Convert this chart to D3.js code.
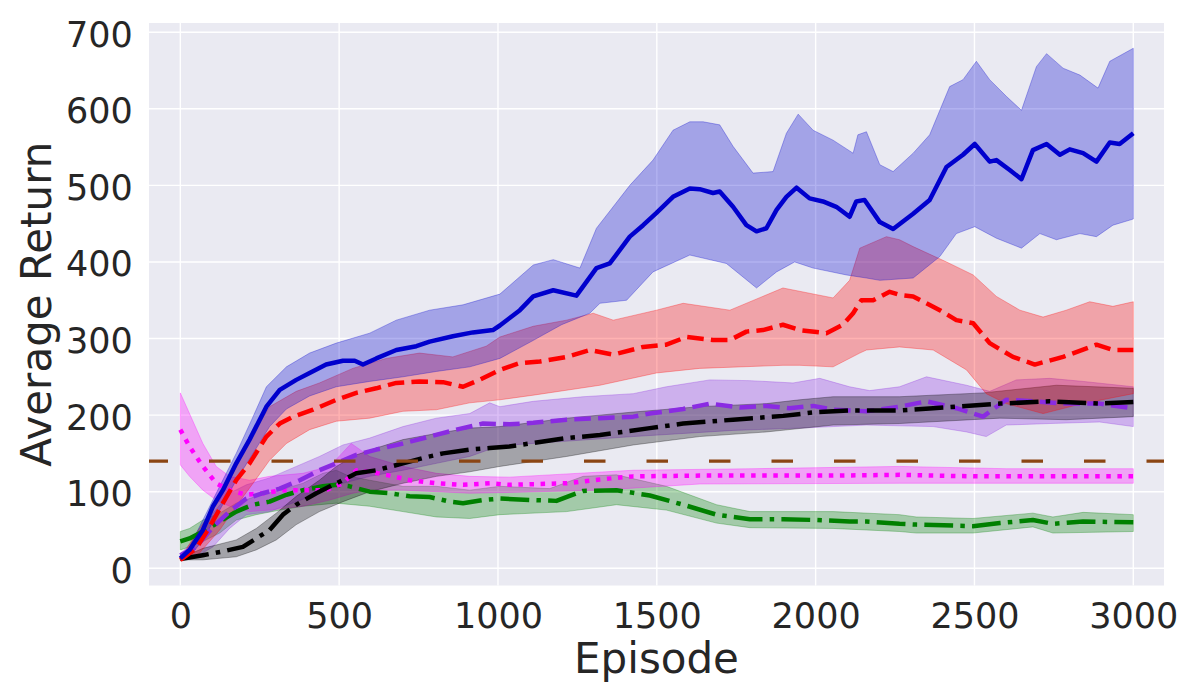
<!DOCTYPE html>
<html>
<head>
<meta charset="utf-8">
<script src="https://cdn.jsdelivr.net/npm/d3@7"></script>
<style>
  body { margin: 0; background: #fff; }
  text { font-family: "DejaVu Sans", sans-serif; fill: #262626; }
</style>
</head>
<body>
<div id="chart"></div>
<script>
// ---- data: [episode, average return] ----
const blueMean = [[0,13],[29,24],[71,50],[103,81],[134,102],[176,137],[218,168],[271,211],[313,233],[365,246],[407,255],[459,266],[512,271],[549,271],[575,266],[617,274],[680,285],[743,290],[785,296],[858,303],[921,308],[984,311],[1006,317],[1069,337],[1111,355],[1174,363],[1247,356],[1310,392],[1352,398],[1415,433],[1457,448],[1499,464],[1551,485],[1604,496],[1635,495],[1677,490],[1698,492],[1740,472],[1782,448],[1814,440],[1845,444],[1877,468],[1908,485],[1940,497],[1981,483],[2023,479],[2065,472],[2107,459],[2128,479],[2154,481],[2202,452],[2244,443],[2307,463],[2359,481],[2412,524],[2464,540],[2501,554],[2548,531],[2569,533],[2611,520],[2648,508],[2684,546],[2727,554],[2769,540],[2800,547],[2842,542],[2884,531],[2926,556],[2957,554],[3000,568]];
const blueUpper = [[0,15],[29,28],[71,63],[124,107],[176,150],[229,198],[271,237],[334,263],[407,281],[491,294],[596,307],[680,324],[785,337],[890,344],[1006,358],[1111,396],[1174,403],[1258,392],[1310,444],[1415,500],[1488,533],[1551,572],[1604,583],[1646,583],[1698,579],[1740,551],[1803,516],[1866,518],[1908,568],[1945,593],[1992,572],[2055,559],[2118,542],[2133,566],[2160,570],[2202,527],[2244,518],[2307,542],[2359,566],[2422,629],[2464,638],[2506,662],[2548,638],[2601,616],[2648,598],[2695,655],[2727,672],[2779,653],[2832,644],[2889,627],[2926,662],[3000,679]];
const blueLower = [[0,12],[29,15],[71,37],[124,76],[176,115],[229,150],[281,185],[334,208],[407,225],[491,237],[596,244],[701,250],[806,257],[911,263],[1006,274],[1100,295],[1200,318],[1289,333],[1321,346],[1405,350],[1488,387],[1604,409],[1719,398],[1814,366],[1877,387],[1934,400],[1992,392],[2097,383],[2160,379],[2202,376],[2307,379],[2391,407],[2443,437],[2501,446],[2569,431],[2648,418],[2706,437],[2758,429],[2832,437],[2884,433],[2936,448],[3000,456]];

const redMean = [[0,11],[50,26],[92,54],[134,85],[176,115],[218,137],[271,172],[313,189],[355,198],[418,207],[491,220],[554,229],[617,235],[680,242],[753,244],[827,243],[890,237],[942,246],[1006,259],[1069,268],[1132,270],[1216,276],[1289,285],[1363,279],[1457,289],[1530,292],[1593,302],[1677,298],[1730,298],[1782,309],[1834,311],[1897,318],[1950,311],[2034,307],[2086,318],[2118,333],[2144,350],[2181,350],[2233,361],[2264,357],[2307,355],[2391,337],[2443,324],[2496,320],[2548,294],[2621,276],[2690,266],[2779,276],[2884,292],[2936,285],[3000,285]];
const redUpper = [[0,12],[50,46],[124,89],[176,133],[229,176],[281,211],[365,231],[438,242],[543,261],[648,274],[753,281],[858,276],[963,290],[1006,302],[1111,316],[1216,324],[1300,333],[1363,324],[1499,337],[1583,346],[1730,337],[1897,366],[2055,353],[2107,376],[2139,418],[2223,433],[2264,429],[2307,420],[2412,400],[2496,383],[2569,355],[2643,337],[2716,328],[2789,337],[2863,348],[2936,342],[3000,348]];
const redLower = [[0,10],[50,15],[124,50],[176,81],[229,111],[281,141],[334,163],[407,181],[491,192],[596,196],[701,205],[806,207],[911,216],[1006,220],[1111,226],[1321,239],[1499,255],[1635,261],[1897,265],[1950,265],[2055,263],[2139,281],[2160,285],[2264,289],[2370,285],[2475,259],[2537,228],[2600,215],[2716,202],[2840,215],[3000,228]];

const purpleMean = [[0,17],[50,28],[103,54],[155,74],[208,91],[260,98],[313,104],[376,115],[438,128],[491,137],[554,148],[617,155],[701,163],[785,172],[869,181],[953,189],[1036,188],[1111,190],[1216,194],[1321,196],[1426,198],[1478,202],[1583,208],[1667,215],[1761,210],[1845,212],[1918,209],[1992,212],[2055,207],[2160,205],[2264,211],[2349,218],[2443,209],[2527,198],[2600,220],[2684,218],[2789,215],[2894,215],[3000,209]];
const purpleUpper = [[0,18],[50,41],[103,72],[155,98],[208,109],[281,118],[365,133],[438,146],[512,161],[596,170],[701,185],[806,196],[911,202],[974,216],[1006,211],[1111,218],[1268,224],[1426,228],[1530,237],[1667,246],[1793,245],[1929,242],[2013,248],[2107,237],[2170,232],[2264,237],[2349,250],[2475,239],[2548,231],[2632,246],[2737,248],[2842,244],[3000,237]];
const purpleLower = [[0,15],[50,15],[103,28],[155,52],[208,70],[281,74],[365,87],[438,98],[512,111],[596,120],[701,128],[806,137],[911,146],[1006,160],[1426,172],[1740,180],[1950,183],[2160,187],[2370,185],[2475,178],[2537,172],[2600,187],[2737,189],[2894,191],[3000,185]];

const blackMean = [[0,12],[71,17],[134,22],[197,28],[239,39],[281,50],[323,70],[365,83],[428,98],[491,111],[554,124],[617,128],[701,137],[764,144],[827,150],[911,155],[974,157],[1036,159],[1216,170],[1321,174],[1478,183],[1583,189],[1740,194],[1898,199],[2003,204],[2107,206],[2264,206],[2370,209],[2580,215],[2737,218],[2894,215],[3000,217]];
const blackUpper = [[0,13],[71,26],[176,37],[239,52],[302,72],[365,94],[438,115],[491,133],[554,148],[617,157],[701,168],[806,176],[911,183],[1006,185],[1216,196],[1426,204],[1635,211],[1845,215],[1950,220],[2055,224],[2264,224],[2527,229],[2758,239],[3000,235]];
const blackLower = [[0,11],[71,11],[176,15],[239,24],[302,37],[365,57],[438,74],[512,87],[596,100],[701,111],[806,120],[911,126],[1006,133],[1216,146],[1426,161],[1635,172],[1845,178],[2055,187],[2264,189],[2580,196],[2789,194],[3000,198]];

const magentaMean = [[0,181],[29,159],[71,133],[113,111],[155,102],[208,96],[260,98],[323,102],[386,102],[459,102],[512,111],[554,128],[596,126],[648,122],[722,115],[806,111],[890,109],[974,111],[1036,109],[1216,111],[1321,116],[1426,120],[1635,121],[1845,121],[2055,121],[2264,122],[2500,120],[2750,120],[3000,120]];
const magentaUpper = [[0,229],[29,202],[71,163],[113,133],[155,120],[218,115],[281,120],[386,124],[470,133],[538,163],[596,146],[701,133],[806,124],[911,120],[1036,119],[1426,128],[1800,130],[2264,133],[2600,130],[3000,130]];
const magentaLower = [[0,135],[29,120],[71,102],[113,89],[155,81],[218,74],[281,76],[386,81],[470,89],[543,98],[596,102],[701,102],[806,100],[911,98],[1036,99],[1321,102],[1635,110],[2264,111],[3000,111]];

const greenMean = [[0,35],[29,39],[71,48],[124,61],[176,74],[229,83],[281,87],[334,96],[386,102],[449,107],[491,109],[533,107],[596,100],[659,98],[722,94],[785,93],[848,87],[890,85],[953,89],[1006,91],[1111,89],[1184,88],[1268,101],[1373,102],[1478,95],[1583,83],[1688,70],[1793,64],[1898,64],[2003,63],[2107,61],[2160,61],[2264,58],[2317,57],[2495,55],[2580,59],[2684,63],[2747,58],[2842,61],[3000,60]];
const greenUpper = [[0,48],[29,52],[71,63],[124,72],[176,85],[239,94],[313,102],[386,111],[449,124],[491,128],[533,120],[596,115],[701,107],[806,107],[911,102],[1006,107],[1163,104],[1268,120],[1373,122],[1530,107],[1688,83],[1793,74],[2055,74],[2264,70],[2317,67],[2495,65],[2684,72],[2747,67],[2842,73],[3000,70]];
const greenLower = [[0,24],[29,28],[71,35],[124,46],[176,63],[239,70],[313,76],[386,81],[491,85],[596,81],[701,74],[806,67],[911,65],[1006,70],[1216,74],[1373,83],[1530,76],[1688,59],[1793,53],[2055,52],[2264,48],[2317,46],[2495,46],[2684,54],[2747,46],[3000,48]];

const baselineReturn = 140;
const xTicks = [0, 500, 1000, 1500, 2000, 2500, 3000];
const yTicks = [0, 100, 200, 300, 400, 500, 600, 700];

// bands go down first, then the lines in this order (later on top)
const series = [
    { mean: greenMean,   upper: greenUpper,   lower: greenLower,   color: "#008000", dash: "28.8 7.2 4.5 7.2" },
    { mean: magentaMean, upper: magentaUpper, lower: magentaLower, color: "#ff00ff", dash: "4.5 6.6" },
    { mean: purpleMean,  upper: purpleUpper,  lower: purpleLower,  color: "#8a2be2", dash: "16.6 7.2" },
    { mean: blackMean,   upper: blackUpper,   lower: blackLower,   color: "#000000", dash: "28.8 7.2 4.5 7.2" },
    { mean: redMean,     upper: redUpper,     lower: redLower,     color: "#ff0000", dash: "16.6 7.2" },
    { mean: blueMean,    upper: blueUpper,    lower: blueLower,    color: "#0000cd", dash: null }
];

const margin = { top: 23, right: 36, bottom: 114.5, left: 149 };
const width = 1200 - margin.left - margin.right;
const height = 700 - margin.top - margin.bottom;

const svg = d3.select("#chart").append("svg")
    .attr("width", 1200)
    .attr("height", 700);

const g = svg.append("g")
    .attr("transform", "translate(" + margin.left + "," + margin.top + ")");

const x = d3.scaleLinear().domain([-98.6, 3096.7]).range([0, width]);
const y = d3.scaleLinear().domain([-22.5, 712]).range([height, 0]);

// background + grid
g.append("rect")
    .attr("width", width)
    .attr("height", height)
    .attr("fill", "#eaeaf2");

g.append("g").selectAll("line")
    .data(xTicks).join("line")
    .attr("x1", d => x(d)).attr("x2", d => x(d))
    .attr("y1", 0).attr("y2", height)
    .attr("stroke", "#fff").attr("stroke-width", 1.4);

g.append("g").selectAll("line")
    .data(yTicks).join("line")
    .attr("y1", d => y(d)).attr("y2", d => y(d))
    .attr("x1", 0).attr("x2", width)
    .attr("stroke", "#fff").attr("stroke-width", 1.4);

svg.append("defs").append("clipPath").attr("id", "plotClip")
    .append("rect").attr("width", width).attr("height", height);

const plotG = g.append("g").attr("clip-path", "url(#plotClip)");
const bandsG = plotG.append("g");
const linesG = plotG.append("g");

const line = d3.line()
    .x(d => x(d[0]))
    .y(d => y(d[1]));

series.forEach(s => {
    // band: upper edge left to right, lower edge back
    const band = s.upper.concat(s.lower.slice().reverse());
    bandsG.append("path")
        .attr("d", line(band) + "Z")
        .attr("fill", s.color)
        .attr("fill-opacity", 0.3)
        .attr("stroke", s.color)
        .attr("stroke-opacity", 0.3)
        .attr("stroke-width", 1);

    linesG.append("path")
        .attr("d", line(s.mean))
        .attr("fill", "none")
        .attr("stroke", s.color)
        .attr("stroke-width", 4.5)
        .attr("stroke-linejoin", "round")
        .attr("stroke-dasharray", s.dash);
});

// reference level
plotG.append("line")
    .attr("x1", 0).attr("x2", width)
    .attr("y1", y(baselineReturn)).attr("y2", y(baselineReturn))
    .attr("stroke", "#8b4513")
    .attr("stroke-width", 3.3)
    .attr("stroke-dasharray", "21.5 41")
    .attr("stroke-dashoffset", 2.5);

// axes
const xAxis = g.append("g")
    .attr("transform", "translate(0," + height + ")")
    .call(d3.axisBottom(x).tickValues(xTicks).tickSize(0).tickPadding(17.6).tickFormat(d3.format("d")));
const yAxis = g.append("g")
    .call(d3.axisLeft(y).tickValues(yTicks).tickSize(0).tickPadding(16.3).tickFormat(d3.format("d")));

[xAxis, yAxis].forEach(ax => {
    ax.select(".domain").remove();
    ax.selectAll("text")
        .attr("font-family", "DejaVu Sans")
        .attr("font-size", 35)
        .attr("fill", "#262626");
});
yAxis.selectAll("text").attr("dy", "0.40em");

svg.append("text")
    .attr("x", margin.left + width / 2)
    .attr("y", 672.7)
    .attr("text-anchor", "middle")
    .attr("font-size", 42)
    .text("Episode");

svg.append("text")
    .attr("transform", "translate(51," + (margin.top + height / 2) + ") rotate(-90)")
    .attr("text-anchor", "middle")
    .attr("font-size", 42)
    .text("Average Return");
</script>
</body>
</html>
